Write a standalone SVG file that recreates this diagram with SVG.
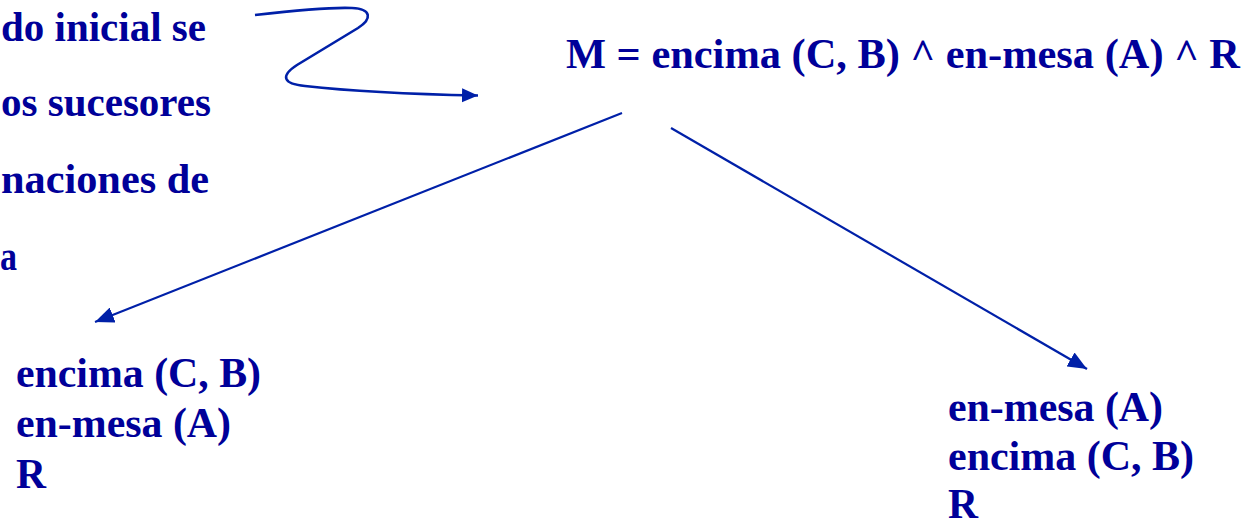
<svg xmlns="http://www.w3.org/2000/svg" width="1259" height="526" viewBox="0 0 1259 526">
  <style>
    .t { font-family: "Liberation Serif", "Times New Roman", serif; font-weight: bold; font-size: 43px; fill: #000099; }
    .edge { fill: none; stroke: #0020a8; stroke-width: 2.2; }
    .wave { fill: none; stroke: #0020a8; stroke-width: 2.6; }
  </style>
  <defs>
    <marker id="head" markerUnits="userSpaceOnUse" markerWidth="20" markerHeight="16" refX="19" refY="8" orient="auto">
      <path d="M0,0 L19,8 L0,16 z" fill="#0020a8"/>
    </marker>
    <marker id="headSmall" markerUnits="userSpaceOnUse" markerWidth="17" markerHeight="16" refX="16" refY="8" orient="auto">
      <path d="M0,1 L16,8 L0,15 z" fill="#0020a8"/>
    </marker>
  </defs>

  <rect width="1259" height="526" fill="#ffffff"/>

  <!-- explanatory text at the left edge -->
  <g id="note">
    <text class="t" x="206" y="41" text-anchor="end" textLength="205" lengthAdjust="spacingAndGlyphs">do inicial se</text>
    <text class="t" x="211" y="116" text-anchor="end" textLength="210" lengthAdjust="spacingAndGlyphs">os sucesores</text>
    <text class="t" x="209" y="193" text-anchor="end" textLength="208" lengthAdjust="spacingAndGlyphs">naciones de</text>
    <text class="t" x="17" y="270" text-anchor="end" textLength="17" lengthAdjust="spacingAndGlyphs">a</text>
  </g>

  <!-- root state -->
  <g id="root">
    <text class="t" x="566" y="68" textLength="674" lengthAdjust="spacingAndGlyphs">M = encima (C, B) ^ en-mesa (A) ^ R</text>
  </g>

  <!-- successor: left ordering -->
  <g id="left-child">
    <text class="t" x="16" y="387" textLength="245" lengthAdjust="spacingAndGlyphs">encima (C, B)</text>
    <text class="t" x="16" y="437" textLength="215" lengthAdjust="spacingAndGlyphs">en-mesa (A)</text>
    <text class="t" x="16" y="488" textLength="30" lengthAdjust="spacingAndGlyphs">R</text>
  </g>

  <!-- successor: right ordering -->
  <g id="right-child">
    <text class="t" x="948" y="421" textLength="215" lengthAdjust="spacingAndGlyphs">en-mesa (A)</text>
    <text class="t" x="948" y="470" textLength="246" lengthAdjust="spacingAndGlyphs">encima (C, B)</text>
    <text class="t" x="948" y="518" textLength="30" lengthAdjust="spacingAndGlyphs">R</text>
  </g>

  <!-- connectors -->
  <g id="connectors">
    <path class="wave" marker-end="url(#headSmall)" d="M255,15 C290,11 330,7 352,8 C372,9 372,19 358,28 L297,65 C280,76 283,84 305,86 C340,90 400,94 478,95.5"/>
    <line class="edge" marker-end="url(#head)" x1="622" y1="113" x2="95" y2="322"/>
    <line class="edge" marker-end="url(#head)" x1="671" y1="128" x2="1087" y2="369"/>
  </g>
</svg>
